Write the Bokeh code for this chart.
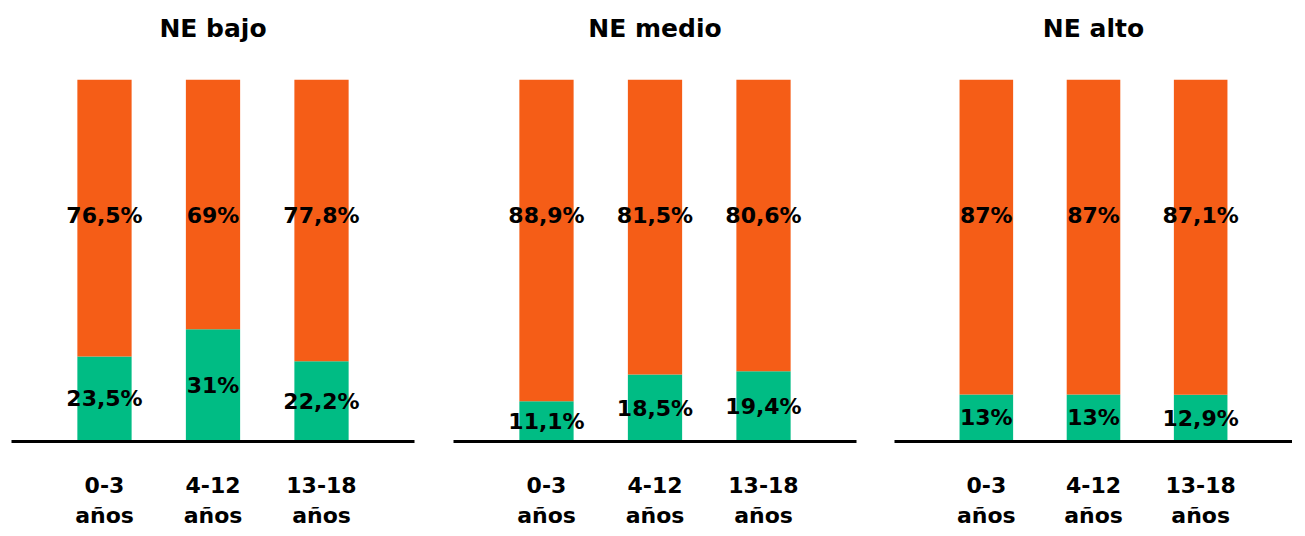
from bokeh.plotting import figure
from bokeh.models import ColumnDataSource, FactorRange, Range1d, LabelSet
from bokeh.layouts import row
from bokeh.embed import file_html
from bokeh.resources import INLINE
from bokeh.core.properties import value

groups = ["NE bajo", "NE medio", "NE alto"]
categories = ["0-3\naños", "4-12\naños", "13-18\naños"]
green_pct = [[23.5, 31, 22.2], [11.1, 18.5, 19.4], [13, 13, 12.9]]
orange_pct = [[76.5, 69, 77.8], [88.9, 81.5, 80.6], [87, 87, 87.1]]

GREEN = "#00BC84"
ORANGE = "#F55D17"
FONT = "DejaVu Sans"
FRAME_W = [403, 403, 398]


def fmt(v):
    return f"{v:g}".replace(".", ",") + "%"


figs = []
for i, g in enumerate(groups):
    gv = green_pct[i]
    ov = orange_pct[i]
    src = ColumnDataSource(dict(
        cat=categories,
        green=gv,
        orange=ov,
        gy=[v / 2 for v in gv],
        oy=[62.5 for _ in ov],
        glab=[fmt(v) for v in gv],
        olab=[fmt(v) for v in ov],
    ))
    last = i == len(groups) - 1
    left = 10 if last else 11
    right = 0 if last else 28
    p = figure(
        x_range=FactorRange(*categories, range_padding=0.238),
        y_range=Range1d(0, 100),
        width=left + FRAME_W[i] + right,
        height=536,
        min_border_left=left,
        min_border_right=right,
        min_border_top=79,
        min_border_bottom=95,
        toolbar_location=None,
        output_backend="svg",
        title=g,
    )
    p.vbar_stack(["green", "orange"], x="cat", width=0.5, color=[GREEN, ORANGE],
                 line_color=None, source=src)
    for ycol, tcol in (("gy", "glab"), ("oy", "olab")):
        p.add_layout(LabelSet(x="cat", y=ycol, text=tcol, source=src,
                              text_align="center", text_baseline="middle",
                              text_font=value(FONT), text_font_style="bold",
                              text_font_size="22px", text_color="black"))
    p.title.align = "center"
    p.title.vertical_align = "bottom"
    p.title.text_font = FONT
    p.title.text_font_style = "bold"
    p.title.text_font_size = "25px"
    p.title.text_color = "black"
    p.title.standoff = 0
    p.title.padding = (0, 0, 0, 37)
    p.outline_line_color = None
    p.xgrid.visible = False
    p.ygrid.visible = False
    p.yaxis.visible = False
    ax = p.xaxis[0]
    ax.axis_line_width = 3
    ax.axis_line_color = "black"
    ax.major_tick_line_color = None
    ax.minor_tick_line_color = None
    ax.major_label_text_font = FONT
    ax.major_label_text_font_style = "bold"
    ax.major_label_text_font_size = "22px"
    ax.major_label_text_color = "black"
    ax.major_label_standoff = 25
    figs.append(p)

layout = row(*figs, spacing=0)
open("out.html", "w").write(file_html(layout, INLINE))
